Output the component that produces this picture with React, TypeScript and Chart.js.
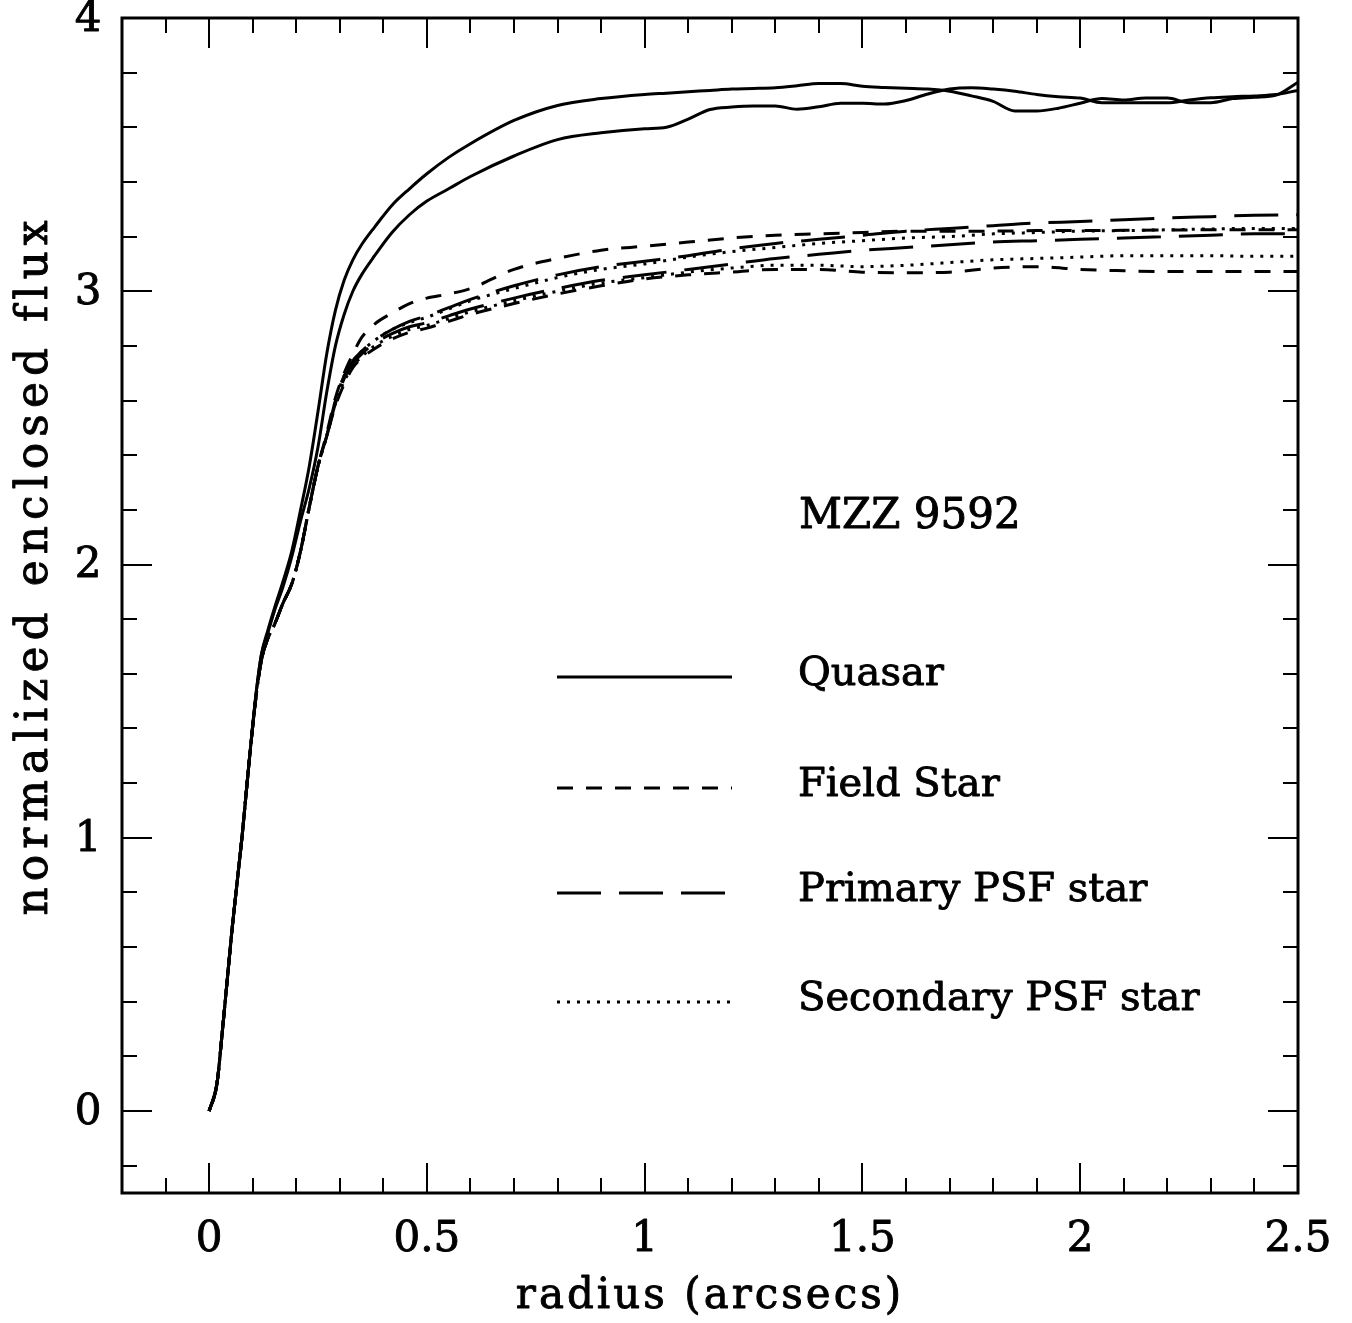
import React, { useEffect, useRef } from "react";
import { Chart, registerables } from "chart.js";

Chart.register(...registerables);

// Radius grids (arcsec)
const RADIUS_Q = [
  0, 0.018, 0.03, 0.053, 0.076, 0.092, 0.108, 0.12, 0.135, 0.15, 0.17, 0.19, 0.21, 0.23, 0.25, 0.27, 0.29, 0.31,
  0.33, 0.35, 0.38, 0.42, 0.46, 0.5, 0.55, 0.6, 0.7, 0.8, 0.9, 1.0, 1.05, 1.1, 1.15, 1.2, 1.25, 1.3, 1.35, 1.4,
  1.45, 1.5, 1.55, 1.6, 1.65, 1.7, 1.75, 1.8, 1.85, 1.9, 1.95, 2.0, 2.05, 2.1, 2.15, 2.2, 2.25, 2.3, 2.35, 2.4,
  2.45, 2.5,
];
const RADIUS_S = [
  0, 0.018, 0.03, 0.053, 0.076, 0.092, 0.108, 0.12, 0.135, 0.15, 0.17, 0.19, 0.21, 0.23, 0.25, 0.27, 0.29, 0.31,
  0.33, 0.35, 0.38, 0.42, 0.46, 0.5, 0.55, 0.6, 0.7, 0.8, 0.9, 1.0, 1.1, 1.2, 1.3, 1.4, 1.5, 1.6, 1.7, 1.8, 1.9,
  2.0, 2.1, 2.2, 2.3, 2.4, 2.5,
];

// Quasar (solid)
const QUASAR_A = [
  0, 0.1, 0.285, 0.67, 1.01, 1.28, 1.53, 1.67, 1.76, 1.84, 1.94, 2.05, 2.2, 2.36, 2.56, 2.77, 2.93, 3.04, 3.115,
  3.17, 3.235, 3.315, 3.375, 3.43, 3.49, 3.54, 3.625, 3.68, 3.705, 3.72, 3.725, 3.73, 3.735, 3.74, 3.742, 3.745,
  3.752, 3.76, 3.76, 3.75, 3.746, 3.743, 3.74, 3.732, 3.715, 3.695, 3.66, 3.66, 3.67, 3.688, 3.705, 3.7, 3.707,
  3.707, 3.69, 3.69, 3.705, 3.71, 3.718, 3.765,
];
const QUASAR_B = [
  0, 0.1, 0.285, 0.67, 1.01, 1.28, 1.53, 1.67, 1.75, 1.83, 1.92, 2.03, 2.16, 2.28, 2.43, 2.63, 2.8, 2.915, 3.0,
  3.06, 3.13, 3.215, 3.28, 3.33, 3.375, 3.42, 3.495, 3.555, 3.58, 3.595, 3.6, 3.63, 3.665, 3.674, 3.678, 3.678,
  3.666, 3.675, 3.688, 3.688, 3.685, 3.698, 3.722, 3.74, 3.745, 3.74, 3.732, 3.72, 3.712, 3.707, 3.69, 3.69, 3.69,
  3.69, 3.7, 3.708, 3.712, 3.715, 3.72, 3.735,
];

// Field star (short dash)
const FIELD_A = [
  0, 0.1, 0.285, 0.67, 1.01, 1.28, 1.52, 1.65, 1.73, 1.78, 1.86, 1.93, 2.05, 2.21, 2.36, 2.48, 2.61, 2.7, 2.77,
  2.83, 2.88, 2.92, 2.955, 2.975, 2.99, 3.01, 3.08, 3.12, 3.15, 3.165, 3.18, 3.195, 3.205, 3.21, 3.215, 3.22, 3.22,
  3.22, 3.222, 3.222, 3.223, 3.224, 3.225, 3.225, 3.225,
];
const FIELD_B = [
  0, 0.1, 0.285, 0.67, 1.01, 1.28, 1.52, 1.65, 1.73, 1.78, 1.86, 1.93, 2.05, 2.21, 2.36, 2.47, 2.58, 2.66, 2.72,
  2.755, 2.79, 2.825, 2.85, 2.865, 2.89, 2.915, 2.955, 2.99, 3.02, 3.045, 3.06, 3.07, 3.08, 3.08, 3.07, 3.068, 3.07,
  3.085, 3.09, 3.08, 3.075, 3.072, 3.072, 3.072, 3.072,
];

// Primary PSF star (long dash)
const PRIMARY_A = [
  0, 0.1, 0.285, 0.67, 1.01, 1.28, 1.52, 1.65, 1.73, 1.78, 1.86, 1.93, 2.05, 2.21, 2.36, 2.47, 2.6, 2.69, 2.745,
  2.78, 2.82, 2.86, 2.89, 2.91, 2.94, 2.97, 3.02, 3.06, 3.09, 3.11, 3.13, 3.155, 3.175, 3.19, 3.205, 3.22, 3.23,
  3.24, 3.25, 3.255, 3.262, 3.268, 3.273, 3.278, 3.28,
];
const PRIMARY_B = [
  0, 0.1, 0.285, 0.67, 1.01, 1.28, 1.52, 1.65, 1.73, 1.78, 1.86, 1.93, 2.05, 2.21, 2.36, 2.47, 2.59, 2.68, 2.735,
  2.77, 2.81, 2.845, 2.87, 2.885, 2.91, 2.935, 2.975, 3.01, 3.04, 3.06, 3.08, 3.1, 3.12, 3.135, 3.15, 3.16, 3.17,
  3.18, 3.185, 3.19, 3.195, 3.2, 3.205, 3.21, 3.21,
];

// Secondary PSF star (dotted)
const SECONDARY_A = [
  0, 0.1, 0.285, 0.67, 1.01, 1.28, 1.52, 1.65, 1.73, 1.78, 1.86, 1.93, 2.05, 2.21, 2.36, 2.47, 2.6, 2.69, 2.745,
  2.78, 2.82, 2.86, 2.885, 2.905, 2.935, 2.965, 3.01, 3.05, 3.08, 3.1, 3.125, 3.145, 3.16, 3.175, 3.185, 3.195,
  3.2, 3.21, 3.215, 3.22, 3.222, 3.225, 3.228, 3.23, 3.23,
];
const SECONDARY_B = [
  0, 0.1, 0.285, 0.67, 1.01, 1.28, 1.52, 1.65, 1.73, 1.78, 1.86, 1.93, 2.05, 2.21, 2.36, 2.47, 2.59, 2.67, 2.725,
  2.76, 2.8, 2.835, 2.86, 2.875, 2.9, 2.925, 2.965, 3.0, 3.03, 3.05, 3.07, 3.085, 3.095, 3.095, 3.09, 3.095, 3.105,
  3.115, 3.12, 3.125, 3.13, 3.13, 3.13, 3.128, 3.128,
];

const X_TICKS = [0, 0.5, 1, 1.5, 2, 2.5];
const X_TICK_LABELS = ["0", "0.5", "1", "1.5", "2", "2.5"];
const Y_TICKS = [0, 1, 2, 3, 4];
const Y_TICK_LABELS = ["0", "1", "2", "3", "4"];

const LEGEND_LABELS = ["Quasar", "Field Star", "Primary PSF star", "Secondary PSF star"];
const TITLE_TEXT = "MZZ 9592";
const X_TITLE = "radius (arcsecs)";
const Y_TITLE = "normalized enclosed flux";

const DASH_SOLID: number[] = [];
const DASH_SHORT = [16, 13];
const DASH_LONG = [44, 18];
const DASH_DOT = [3, 7];
const LEGEND_DASHES = [DASH_SOLID, DASH_SHORT, DASH_LONG, DASH_DOT];

const SERIF = '"DejaVu Serif", "Liberation Serif", serif';

function pts(xs: number[], ys: number[]) {
  return ys.map((y, i) => ({ x: xs[i], y }));
}

function heavyText(ctx: CanvasRenderingContext2D, s: string, x: number, y: number) {
  ctx.fillText(s, x, y);
  ctx.strokeText(s, x, y);
}

const decorPlugin = {
  id: "decor",
  afterDraw(chart: any) {
    const ctx: CanvasRenderingContext2D = chart.ctx;
    const { left, right, top, bottom } = chart.chartArea;
    const xs = chart.scales.x;
    const ys = chart.scales.y;
    ctx.save();
    ctx.strokeStyle = "#000";
    ctx.fillStyle = "#000";
    ctx.setLineDash([]);

    // ticks (inward, all four sides)
    ctx.lineWidth = 2;
    for (let i = -2; i <= 25; i++) {
      const v = i / 10;
      const px = Math.round(xs.getPixelForValue(v));
      const len = i % 5 === 0 ? 30 : 15;
      ctx.beginPath();
      ctx.moveTo(px, bottom);
      ctx.lineTo(px, bottom - len);
      ctx.moveTo(px, top);
      ctx.lineTo(px, top + len);
      ctx.stroke();
    }
    for (let i = -1; i <= 20; i++) {
      const v = i / 5;
      const py = Math.round(ys.getPixelForValue(v));
      const len = i % 5 === 0 ? 30 : 15;
      ctx.beginPath();
      ctx.moveTo(left, py);
      ctx.lineTo(left + len, py);
      ctx.moveTo(right, py);
      ctx.lineTo(right - len, py);
      ctx.stroke();
    }

    // frame
    ctx.lineWidth = 3;
    ctx.strokeRect(left, top, right - left, bottom - top);

    // text stroke for heavier glyphs
    ctx.lineWidth = 0.9;
    ctx.lineJoin = "round";

    // tick labels
    ctx.font = `42px ${SERIF}`;
    ctx.textAlign = "center";
    ctx.textBaseline = "middle";
    X_TICKS.forEach((v, i) => {
      heavyText(ctx, X_TICK_LABELS[i], xs.getPixelForValue(v), bottom + 47);
    });
    Y_TICKS.forEach((v, i) => {
      heavyText(ctx, Y_TICK_LABELS[i], 88, ys.getPixelForValue(v) + 2);
    });

    // axis titles
    (ctx as any).letterSpacing = "3px";
    ctx.font = `42px ${SERIF}`;
    heavyText(ctx, X_TITLE, (left + right) / 2, 1297);
    ctx.save();
    ctx.translate(36, 565);
    ctx.rotate(-Math.PI / 2);
    (ctx as any).letterSpacing = "6px";
    ctx.font = `44px ${SERIF}`;
    heavyText(ctx, Y_TITLE, 0, 0);
    ctx.restore();

    // object name
    (ctx as any).letterSpacing = "0px";
    ctx.textAlign = "left";
    ctx.font = `42px ${SERIF}`;
    heavyText(ctx, TITLE_TEXT, 799, 517);

    // legend
    const rows = [675, 786, 891, 1000];
    ctx.font = `40px ${SERIF}`;
    LEGEND_LABELS.forEach((lab, i) => {
      const y = rows[i];
      ctx.lineWidth = 3;
      ctx.setLineDash(LEGEND_DASHES[i]);
      ctx.beginPath();
      ctx.moveTo(557, y + 2);
      ctx.lineTo(732, y + 2);
      ctx.stroke();
      ctx.setLineDash([]);
      ctx.lineWidth = 0.9;
      heavyText(ctx, lab, 798, y);
    });
    ctx.restore();
  },
};

export default function App() {
  const ref = useRef<HTMLCanvasElement | null>(null);
  useEffect(() => {
    if (!ref.current) return;
    const mk = (label: string, xs: number[], ys: number[], dash: number[]) => ({
      label,
      data: pts(xs, ys),
      borderColor: "#000",
      backgroundColor: "#000",
      borderWidth: 3,
      borderDash: dash,
      borderCapStyle: "butt",
      pointRadius: 0,
      fill: false,
      cubicInterpolationMode: "monotone",
    });
    const chart = new Chart(ref.current, {
      type: "line",
      data: {
        datasets: [
          mk("Quasar", RADIUS_Q, QUASAR_A, DASH_SOLID),
          mk("Quasar 2", RADIUS_Q, QUASAR_B, DASH_SOLID),
          mk("Field Star", RADIUS_S, FIELD_A, DASH_SHORT),
          mk("Field Star 2", RADIUS_S, FIELD_B, DASH_SHORT),
          mk("Primary PSF star", RADIUS_S, PRIMARY_A, DASH_LONG),
          mk("Primary PSF star 2", RADIUS_S, PRIMARY_B, DASH_LONG),
          mk("Secondary PSF star", RADIUS_S, SECONDARY_A, DASH_DOT),
          mk("Secondary PSF star 2", RADIUS_S, SECONDARY_B, DASH_DOT),
        ] as any,
      },
      options: {
        animation: false,
        responsive: false,
        devicePixelRatio: 1,
        layout: { padding: { left: 0, right: 54, top: 18, bottom: 0 } },
        plugins: { legend: { display: false }, tooltip: { enabled: false } },
        scales: {
          x: {
            type: "linear",
            min: -0.2,
            max: 2.5,
            grid: { display: false, drawTicks: false },
            border: { display: false },
            ticks: { display: false },
            afterFit: (s: any) => {
              s.height = 130;
            },
          },
          y: {
            type: "linear",
            min: -0.3,
            max: 4,
            grid: { display: false, drawTicks: false },
            border: { display: false },
            ticks: { display: false },
            afterFit: (s: any) => {
              s.width = 122;
            },
          },
        },
      } as any,
      plugins: [decorPlugin],
    });
    return () => chart.destroy();
  }, []);
  return (
    <div style={{ position: "absolute", left: 0, top: 0, width: 1352, height: 1323, background: "#fff" }}>
      <canvas ref={ref} width={1352} height={1323} style={{ display: "block" }} />
    </div>
  );
}
